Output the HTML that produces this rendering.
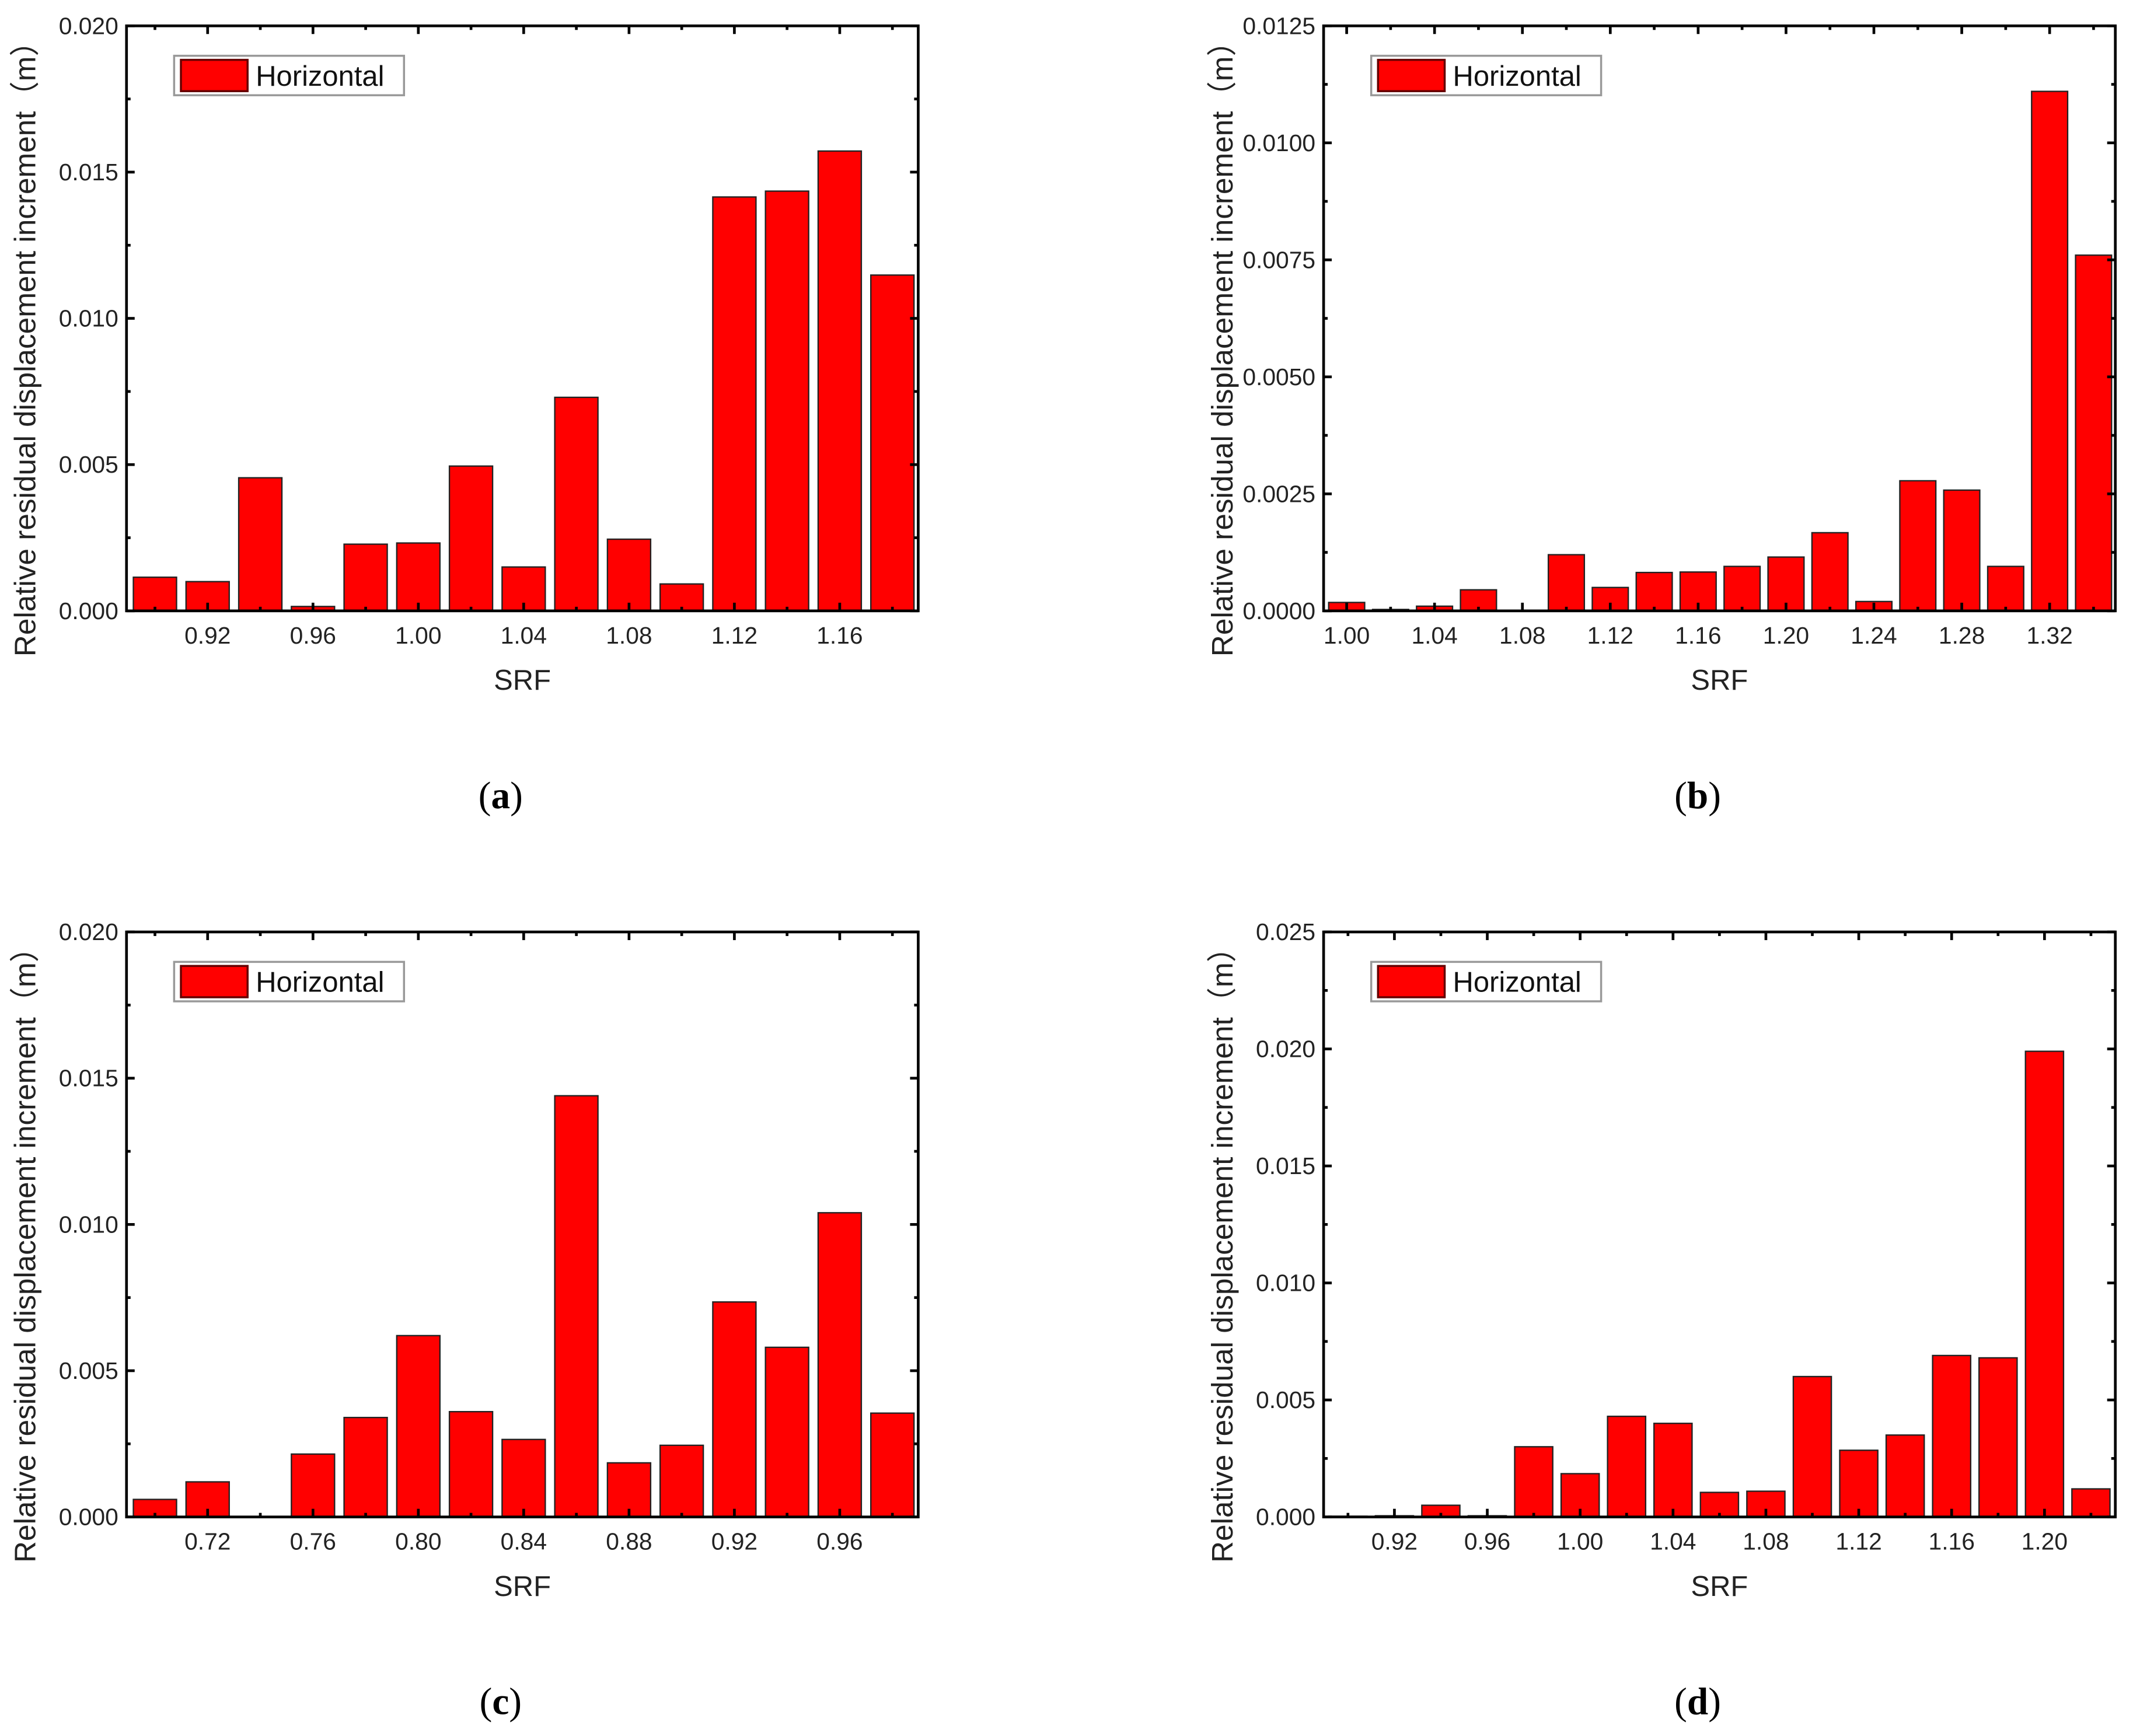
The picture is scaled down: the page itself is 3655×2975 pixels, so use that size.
<!DOCTYPE html>
<html><head><meta charset="utf-8"><style>
html,body{margin:0;padding:0;background:#fff}
svg{display:block}
</style></head><body>
<svg id="fig" xmlns="http://www.w3.org/2000/svg" width="3655" height="2975" viewBox="0 0 1568 1276" preserveAspectRatio="none"></svg>
<script>
// Panel (a)
const catsA = [0.90,0.92,0.94,0.96,0.98,1.00,1.02,1.04,1.06,1.08,1.10,1.12,1.14,1.16,1.18];
const valsA = [0.00115,0.00100,0.00455,0.00015,0.00228,0.00232,0.00495,0.00150,0.0073,0.00245,0.00092,0.01415,0.01435,0.01572,0.01148];
const yTicksA = ["0.000","0.005","0.010","0.015","0.020"];
const xLabelsA = ["0.92","0.96","1.00","1.04","1.08","1.12","1.16"];
// Panel (b)
const catsB = [1.00,1.02,1.04,1.06,1.08,1.10,1.12,1.14,1.16,1.18,1.20,1.22,1.24,1.26,1.28,1.30,1.32,1.34];
const valsB = [0.00018,0.00003,0.0001,0.00045,0,0.0012,0.0005,0.00082,0.00083,0.00095,0.00115,0.00167,0.0002,0.00278,0.00258,0.00095,0.0111,0.0076];
const yTicksB = ["0.0000","0.0025","0.0050","0.0075","0.0100","0.0125"];
const xLabelsB = ["1.00","1.04","1.08","1.12","1.16","1.20","1.24","1.28","1.32"];
// Panel (c)
const catsC = [0.70,0.72,0.74,0.76,0.78,0.80,0.82,0.84,0.86,0.88,0.90,0.92,0.94,0.96,0.98];
const valsC = [0.0006,0.0012,0,0.00215,0.0034,0.0062,0.0036,0.00265,0.0144,0.00185,0.00245,0.00735,0.0058,0.0104,0.00355];
const yTicksC = ["0.000","0.005","0.010","0.015","0.020"];
const xLabelsC = ["0.72","0.76","0.80","0.84","0.88","0.92","0.96"];
// Panel (d)
const catsD = [0.90,0.92,0.94,0.96,0.98,1.00,1.02,1.04,1.06,1.08,1.10,1.12,1.14,1.16,1.18,1.20,1.22];
const valsD = [0.00003,0.00005,0.0005,0.00005,0.003,0.00185,0.0043,0.004,0.00105,0.0011,0.006,0.00285,0.0035,0.0069,0.0068,0.0199,0.0012];
const yTicksD = ["0.000","0.005","0.010","0.015","0.020","0.025"];
const xLabelsD = ["0.92","0.96","1.00","1.04","1.08","1.12","1.16","1.20"];

const NS="http://www.w3.org/2000/svg";
const svg=document.getElementById('fig');
function mk(tag,attrs,parent){const e=document.createElementNS(NS,tag);for(const k in attrs)e.setAttribute(k,attrs[k]);(parent||svg).appendChild(e);return e;}

function panel(id,L,R,T,B,xmin,xmax,cats,vals,yTicks,xLabels,caption){
  const g=mk('g',{});
  
  
  const ymax=parseFloat(yTicks[yTicks.length-1]);
  const ystep=parseFloat(yTicks[1]);
  const sx=v=>L+(v-xmin)/(xmax-xmin)*(R-L);
  const sy=v=>B-v/ymax*(B-T);
  const bw=(sx(0.02)-sx(0))*0.82;
  cats.forEach((c,i)=>{
    const y=sy(vals[i]);
    const r=mk('rect',{x:sx(c)-bw/2,y:y,width:bw,height:Math.max(B-y,0),fill:'#ff0000',stroke:'#222','stroke-width':1},g);
    
    
  });
  const f=mk('rect',{x:L,y:T,width:R-L,height:B-T,fill:'none',stroke:'#000','stroke-width':2},g);
  
  
  yTicks.forEach((t,i)=>{
    const v=parseFloat(t),y=sy(v);
    mk('line',{x1:L,x2:L+6,y1:y,y2:y,stroke:'#000','stroke-width':2},g);
    mk('line',{x1:R,x2:R-6,y1:y,y2:y,stroke:'#000','stroke-width':2},g);
    if(i<yTicks.length-1){const ym=sy(v+ystep/2);
      mk('line',{x1:L,x2:L+3,y1:ym,y2:ym,stroke:'#000','stroke-width':2},g);
      mk('line',{x1:R,x2:R-3,y1:ym,y2:ym,stroke:'#000','stroke-width':2},g);}
    const tx=mk('text',{x:L-6,y:y+6,'text-anchor':'end','font-size':17.5,'font-family':'Liberation Sans, sans-serif',fill:'#222'},g);
    tx.textContent=t;
    
    
  });
  const labs=xLabels.map(parseFloat);
  cats.forEach(c=>{
    const x=sx(c);const major=labs.some(l=>Math.abs(l-c)<1e-6);const len=major?6:3;
    mk('line',{x1:x,x2:x,y1:B,y2:B-len,stroke:'#000','stroke-width':2},g);
    mk('line',{x1:x,x2:x,y1:T,y2:T+len,stroke:'#000','stroke-width':2},g);
  });
  xLabels.forEach(l=>{
    const tx=mk('text',{x:sx(parseFloat(l)),y:B+24,'text-anchor':'middle','font-size':17.5,'font-family':'Liberation Sans, sans-serif',fill:'#222'},g);
    tx.textContent=l;
    
    
  });
  const xt=mk('text',{x:(L+R)/2,y:B+58,'text-anchor':'middle','font-size':21,'font-family':'Liberation Sans, sans-serif',fill:'#222'},g);
  xt.textContent='SRF';
  
  
  const yt=mk('text',{x:0,y:0,'text-anchor':'middle','font-size':22,'font-family':'Liberation Sans, "Noto Sans CJK SC", sans-serif',fill:'#222',transform:`translate(${L-67},${(T+B)/2+17}) rotate(-90)`},g);
  yt.textContent='Relative residual displacement increment（m）';
  
  
  const lg=mk('g',{},g);
  
  
  mk('rect',{x:L+35,y:T+22,width:169,height:29,fill:'#fff',stroke:'#999','stroke-width':1.5},lg);
  mk('rect',{x:L+40,y:T+25,width:49,height:23,fill:'#ff0000',stroke:'#600','stroke-width':1.5},lg);
  const lt=mk('text',{x:L+95,y:T+44,'font-size':21,'font-family':'Liberation Sans, sans-serif',fill:'#111'},lg);
  lt.textContent='Horizontal';
  const cap=mk('text',{x:(L+R)/2-16,y:B+145,'text-anchor':'middle','font-size':28,'font-family':'Liberation Serif, serif',fill:'#000'},g);
  
  
  cap.innerHTML='(<tspan font-weight="bold">'+caption+'</tspan>)';
}
panel('a',93,675,19,449,0.8892,1.1898,catsA,valsA,yTicksA,xLabelsA,'a');
panel('b',973,1555,19,449,0.9895,1.3499,catsB,valsB,yTicksB,xLabelsB,'b');
panel('c',93,675,685,1115,0.6892,0.9898,catsC,valsC,yTicksC,xLabelsC,'c');
panel('d',973,1555,685,1115,0.8895,1.2305,catsD,valsD,yTicksD,xLabelsD,'d');
</script>
</body></html>
